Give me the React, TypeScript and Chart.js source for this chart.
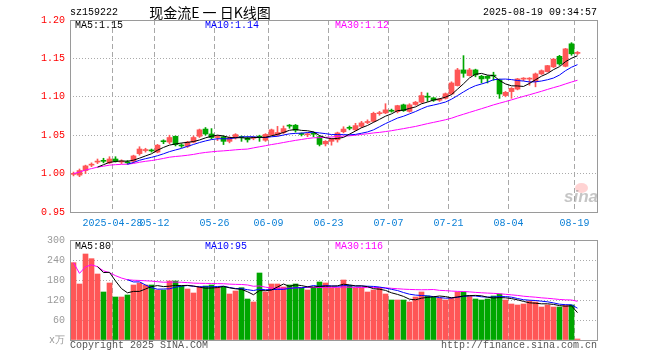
import React, { useEffect, useRef } from "react";
import { Chart, registerables } from "chart.js";

Chart.register(...registerables);

// ---------------- DATA ----------------
const DATES = [
  "04-17", "04-18", "04-21", "04-22", "04-23", "04-24", "04-25", "04-28", "04-29", "04-30",
  "05-06", "05-07", "05-08", "05-09", "05-12", "05-13", "05-14", "05-15", "05-16", "05-19",
  "05-20", "05-21", "05-22", "05-23", "05-26", "05-27", "05-28", "05-29", "05-30", "06-03",
  "06-04", "06-05", "06-06", "06-09", "06-10", "06-11", "06-12", "06-13", "06-16", "06-17",
  "06-18", "06-19", "06-20", "06-23", "06-24", "06-25", "06-26", "06-27", "06-30", "07-01",
  "07-02", "07-03", "07-04", "07-07", "07-08", "07-09", "07-10", "07-11", "07-14", "07-15",
  "07-16", "07-17", "07-18", "07-21", "07-22", "07-23", "07-24", "07-25", "07-28", "07-29",
  "07-30", "07-31", "08-01", "08-04", "08-05", "08-06", "08-07", "08-08", "08-11", "08-12",
  "08-13", "08-14", "08-15", "08-18", "08-19",
];

const OPEN = [
  0.999, 0.998, 1.004, 1.011, 1.015, 1.017, 1.014, 1.019, 1.015, 1.0145,
  1.016, 1.026, 1.03, 1.03, 1.028, 1.042, 1.041, 1.0486, 1.0365, 1.0355,
  1.041, 1.0486, 1.058, 1.0516, 1.047, 1.048, 1.042, 1.0465, 1.0475, 1.0465,
  1.046, 1.048, 1.0434, 1.05, 1.05, 1.0534, 1.0622, 1.063, 1.0515, 1.0505,
  1.0518, 1.048, 1.0387, 1.042, 1.044, 1.0545, 1.0595, 1.057, 1.0616, 1.0665,
  1.068, 1.078, 1.079, 1.082, 1.0807, 1.0895, 1.081, 1.09, 1.093, 1.1,
  1.0986, 1.0955, 1.098, 1.1037, 1.1146, 1.135, 1.1276, 1.135, 1.1267, 1.1267,
  1.1275, 1.122, 1.1016, 1.1068, 1.11, 1.123, 1.123, 1.12, 1.1298, 1.1328,
  1.139, 1.1527, 1.1397, 1.169, 1.1565,
];

const CLOSE = [
  1.0, 1.004, 1.01, 1.012, 1.016, 1.016, 1.019, 1.016, 1.0155, 1.014,
  1.023, 1.032, 1.0305, 1.0295, 1.037, 1.0415, 1.047, 1.0378, 1.036, 1.041,
  1.047, 1.057, 1.0516, 1.047, 1.0475, 1.042, 1.0465, 1.0508, 1.047, 1.044,
  1.0465, 1.0475, 1.051, 1.057, 1.0535, 1.0586, 1.0618, 1.0565, 1.051, 1.051,
  1.0513, 1.038, 1.042, 1.0447, 1.053, 1.058, 1.059, 1.0625, 1.066, 1.0677,
  1.0785, 1.0785, 1.083, 1.0812, 1.0885, 1.082, 1.0895, 1.093, 1.1016, 1.0995,
  1.0955, 1.097, 1.104, 1.118, 1.135, 1.1306, 1.135, 1.1285, 1.1233, 1.124,
  1.127, 1.1037, 1.1058, 1.111, 1.1233, 1.1235, 1.1235, 1.1298, 1.134, 1.1406,
  1.149, 1.1428, 1.1624, 1.156, 1.157,
];

const HIGH = [
  1.002, 1.006, 1.011, 1.014, 1.019, 1.02, 1.022, 1.022, 1.018, 1.017,
  1.024, 1.035, 1.033, 1.032, 1.038, 1.044, 1.05, 1.049, 1.039, 1.042,
  1.049, 1.058, 1.06, 1.0586, 1.05, 1.049, 1.048, 1.052, 1.049, 1.048,
  1.048, 1.05, 1.052, 1.058, 1.0615, 1.062, 1.064, 1.064, 1.053, 1.053,
  1.054, 1.049, 1.043, 1.046, 1.054, 1.061, 1.062, 1.0655, 1.068, 1.07,
  1.08, 1.081, 1.091, 1.084, 1.089, 1.0905, 1.091, 1.094, 1.106, 1.105,
  1.099, 1.098, 1.105, 1.1195, 1.137, 1.1536, 1.137, 1.136, 1.128, 1.1275,
  1.132, 1.123, 1.107, 1.112, 1.124, 1.125, 1.125, 1.131, 1.135, 1.141,
  1.15, 1.154, 1.163, 1.1705, 1.159,
];

const LOW = [
  0.997, 0.996, 1.0, 1.009, 1.013, 1.014, 1.013, 1.015, 1.013, 1.012,
  1.014, 1.024, 1.028, 1.028, 1.027, 1.039, 1.039, 1.036, 1.034, 1.034,
  1.04, 1.047, 1.05, 1.045, 1.043, 1.0378, 1.04, 1.045, 1.042, 1.041,
  1.044, 1.042, 1.042, 1.05, 1.049, 1.052, 1.059, 1.054, 1.049, 1.048,
  1.048, 1.036, 1.036, 1.037, 1.041, 1.053, 1.057, 1.056, 1.06, 1.065,
  1.067, 1.076, 1.078, 1.08, 1.079, 1.081, 1.08, 1.089, 1.092, 1.094,
  1.094, 1.094, 1.097, 1.103, 1.114, 1.1254, 1.127, 1.126, 1.118, 1.118,
  1.1215, 1.098, 1.1, 1.098, 1.109, 1.121, 1.115, 1.113, 1.129, 1.132,
  1.138, 1.141, 1.139, 1.154, 1.155,
];

// volume in 万
const VOLUME = [
  232, 168, 258, 244, 198, 144, 171, 129, 129, 135,
  165, 171, 165, 165, 150, 150, 177, 177, 162, 153,
  141, 159, 162, 165, 159, 159, 138, 147, 157, 123,
  114, 201, 144, 168, 168, 159, 165, 168, 156, 150,
  156, 174, 171, 156, 156, 180, 164, 156, 156, 144,
  150, 156, 138, 120, 120, 120, 114, 129, 144, 132,
  129, 126, 120, 126, 144, 144, 132, 123, 120, 123,
  132, 138, 120, 108, 105, 108, 117, 114, 99, 105,
  99, 99, 105, 105, 3,
];

const TICK_DATES = ["04-28", "05-12", "05-26", "06-09", "06-23", "07-07", "07-21", "08-04", "08-19"];
const TICK_LABELS = ["2025-04-28", "05-12", "05-26", "06-09", "06-23", "07-07", "07-21", "08-04", "08-19"];
const PRICE_TICKS = [0.95, 1.0, 1.05, 1.1, 1.15, 1.2];
const VOLUME_TICKS = [0, 60, 120, 180, 240, 300];

const CODE = "sz159222";
const TITLE = "现金流E 一 日K线图";
const TIMESTAMP = "2025-08-19 09:34:57";
const PRICE_MA_LABELS = ["MA5:1.15", "MA10:1.14", "MA30:1.12"];
const VOLUME_MA_LABELS = ["MA5:80", "MA10:95", "MA30:116"];

// ---------------- STYLE ----------------
const RED = "#ff5656";
const GREEN = "#00a600";
const MA_COLORS = ["#000000", "#0000ff", "#ff00ff"];
const MONO = "'Liberation Mono', 'DejaVu Sans Mono', monospace";
const X_MIN = -0.5833;
const X_MAX = X_MIN + 88;

function movingAverage(values: number[], n: number, minCount: number) {
  return values.map((_, i) => {
    if (i + 1 < minCount) return null;
    const s = Math.max(0, i - n + 1);
    let sum = 0;
    for (let k = s; k <= i; k++) sum += values[k];
    return sum / (i - s + 1);
  });
}

const tickIndex = TICK_DATES.map((d) => DATES.indexOf(d));
const isUp = OPEN.map((o, i) => CLOSE[i] >= o);
const candleColors = isUp.map((u) => (u ? RED : GREEN));

const framePlugin = {
  id: "frame",
  afterDraw(chart: any) {
    const { ctx, chartArea: a } = chart;
    ctx.save();
    ctx.strokeStyle = "#9a9a9a";
    ctx.lineWidth = 1;
    ctx.strokeRect(
      Math.round(a.left) + 0.5,
      Math.round(a.top) + 0.5,
      Math.round(a.right - a.left) - 1,
      Math.round(a.bottom - a.top)
    );
    ctx.restore();
  },
};

function xScale(showLabels: boolean, height: number) {
  return {
    type: "linear",
    min: X_MIN,
    max: X_MAX,
    offset: false,
    afterBuildTicks: (axis: any) => {
      axis.ticks = tickIndex.map((i) => ({ value: i - 0.5 }));
    },
    afterFit: (axis: any) => {
      axis.height = height;
    },
    grid: { display: true, offset: false, drawTicks: false, color: "#a8a8a8", lineWidth: 1 },
    border: { display: false, dash: [5, 3] },
    ticks: {
      display: showLabels,
      autoSkip: false,
      maxRotation: 0,
      minRotation: 0,
      padding: 5,
      color: "#0a7fd6",
      font: { family: MONO, size: 10 },
      callback: (_v: any, idx: number) => TICK_LABELS[idx],
    },
  };
}

function yScale(min: number, max: number, ticks: number[], color: string, fmt: (v: number) => string) {
  return {
    type: "linear",
    min,
    max,
    afterBuildTicks: (axis: any) => {
      axis.ticks = ticks.map((v) => ({ value: v }));
    },
    afterFit: (axis: any) => {
      axis.width = 70;
    },
    grid: { display: true, drawTicks: false, color: "#aaaaaa", lineWidth: 1 },
    border: { display: false, dash: [1, 2] },
    ticks: {
      padding: 5,
      color,
      font: { family: MONO, size: 10 },
      callback: (v: any) => fmt(Number(v)),
    },
  };
}

function maDatasets(values: number[]) {
  const specs: [number, number][] = [
    [5, 5],
    [10, 10],
    [30, 1],
  ];
  return specs.map(([n, minCount], k) => ({
    type: "line",
    data: movingAverage(values, n, minCount).map((v, i) => ({ x: i, y: v })),
    borderColor: MA_COLORS[k],
    borderWidth: 1,
    pointRadius: 0,
    tension: 0,
    fill: false,
    spanGaps: false,
  }));
}

export default function App() {
  const priceRef = useRef<HTMLCanvasElement>(null);
  const volRef = useRef<HTMLCanvasElement>(null);

  useEffect(() => {
    const common = {
      responsive: false,
      animation: false,
      devicePixelRatio: 1,
      events: [],
      plugins: { legend: { display: false }, tooltip: { enabled: false }, title: { display: false } },
    };

    const priceChart = new Chart(priceRef.current as HTMLCanvasElement, {
      type: "bar",
      data: {
        datasets: [
          ...maDatasets(CLOSE),
          {
            type: "bar",
            data: OPEN.map((o, i) => ({ x: i, y: [o, CLOSE[i]] })),
            backgroundColor: candleColors,
            borderWidth: 0,
            barThickness: 5,
            minBarLength: 1,
            grouped: false,
          },
          {
            type: "bar",
            data: LOW.map((l, i) => ({ x: i, y: [l, HIGH[i]] })),
            backgroundColor: candleColors,
            borderWidth: 0,
            barThickness: 1,
            grouped: false,
          },
        ],
      } as any,
      options: {
        ...common,
        layout: { padding: { left: 0, right: 62, top: 20, bottom: 0 } },
        scales: {
          x: xScale(true, 24),
          y: yScale(0.95, 1.2, PRICE_TICKS, "#ff0000", (v) => v.toFixed(2)),
        },
      } as any,
      plugins: [framePlugin],
    });

    const volChart = new Chart(volRef.current as HTMLCanvasElement, {
      type: "bar",
      data: {
        datasets: [
          ...maDatasets(VOLUME),
          {
            type: "bar",
            data: VOLUME.map((v, i) => ({ x: i, y: v })),
            backgroundColor: candleColors,
            borderWidth: 0,
            barThickness: 5,
            grouped: false,
          },
        ],
      } as any,
      options: {
        ...common,
        layout: { padding: { left: 0, right: 62, top: 14, bottom: 0 } },
        scales: {
          x: xScale(false, 20),
          y: yScale(0, 300, VOLUME_TICKS, "#9a9a9a", (v) => (v === 0 ? "x万" : String(v))),
        },
      } as any,
      plugins: [framePlugin],
    });

    return () => {
      priceChart.destroy();
      volChart.destroy();
    };
  }, []);

  const txt = (extra: React.CSSProperties): React.CSSProperties => ({
    position: "absolute",
    fontFamily: MONO,
    fontSize: 10,
    lineHeight: "10px",
    whiteSpace: "pre",
    ...extra,
  });

  const maX = [75, 205, 335];

  return (
    <div
      style={{
        position: "absolute",
        left: 0,
        top: 0,
        width: 660,
        height: 360,
        background: "#ffffff",
        overflow: "hidden",
      }}
    >
      <canvas
        ref={priceRef}
        width={660}
        height={236}
        style={{ position: "absolute", left: 0, top: 0, width: 660, height: 236 }}
      />
      <canvas
        ref={volRef}
        width={660}
        height={134}
        style={{ position: "absolute", left: 0, top: 226, width: 660, height: 134 }}
      />

      <div style={txt({ left: 70, top: 8, color: "#000" })}>{CODE}</div>
      <div
        style={{
          position: "absolute",
          left: 140,
          width: 140,
          top: 4,
          textAlign: "center",
          fontFamily: "'Noto Sans CJK SC', sans-serif",
          fontSize: 14,
          lineHeight: "16px",
          color: "#000",
          whiteSpace: "pre",
        }}
      >
        {TITLE}
      </div>
      <div style={txt({ right: 63, top: 8, color: "#000" })}>{TIMESTAMP}</div>

      {PRICE_MA_LABELS.map((t, k) => (
        <div key={"p" + k} style={txt({ left: maX[k], top: 21, color: MA_COLORS[k] })}>
          {t}
        </div>
      ))}
      {VOLUME_MA_LABELS.map((t, k) => (
        <div key={"v" + k} style={txt({ left: maX[k], top: 242, color: MA_COLORS[k] })}>
          {t}
        </div>
      ))}

      <div
        style={{
          position: "absolute",
          left: 575,
          top: 183,
          width: 13,
          height: 10,
          borderRadius: "50%",
          background: "rgba(255,110,110,0.3)",
        }}
      />
      <div
        style={{
          position: "absolute",
          left: 564,
          top: 188,
          fontFamily: "'Liberation Sans', Arial, sans-serif",
          fontStyle: "italic",
          fontWeight: "bold",
          fontSize: 17,
          lineHeight: "17px",
          color: "rgba(150,150,150,0.55)",
        }}
      >
        sina
      </div>

      <div style={txt({ left: 70, top: 341, color: "#555" })}>Copyright 2025 SINA.COM</div>
      <div style={txt({ right: 63, top: 341, color: "#555" })}>http://finance.sina.com.cn</div>
    </div>
  );
}
